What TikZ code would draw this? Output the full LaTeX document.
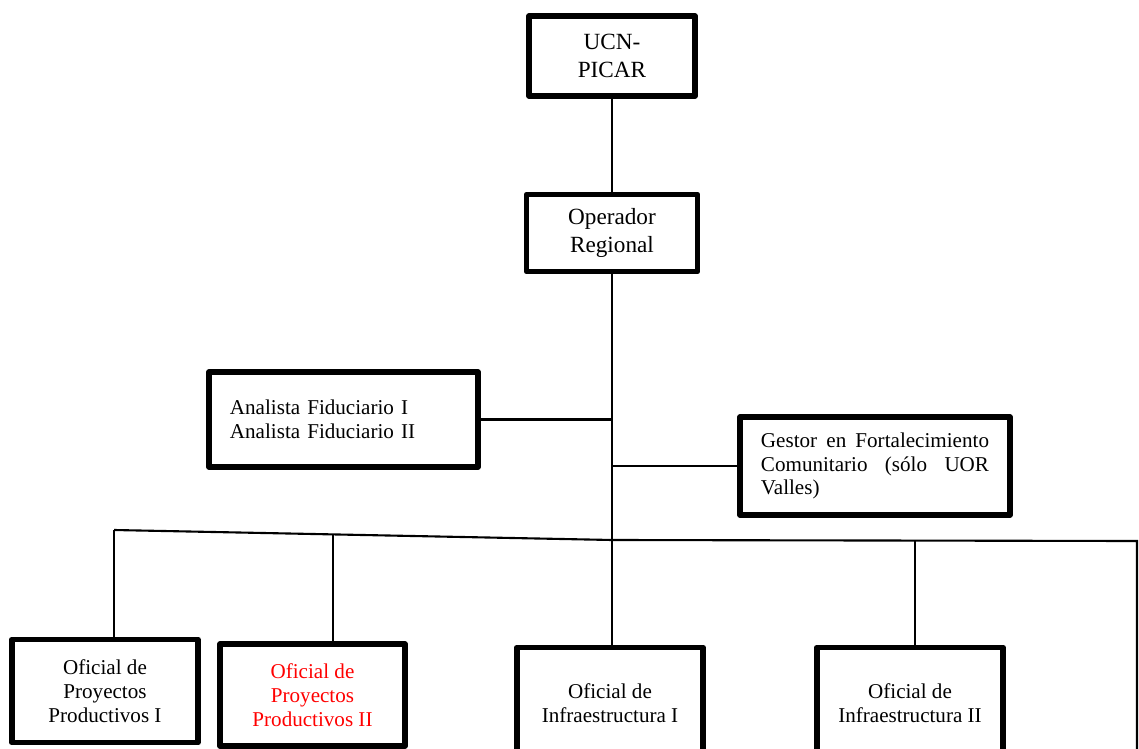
\documentclass[tikz,border=0pt]{standalone}
\usepackage{fontspec}
\setmainfont{Liberation Serif}
\usepackage{tikz}
\usetikzlibrary{calc}
\tikzset{unit/.style={draw,line width=4pt,line join=round,inner sep=0pt,
    align=center,font=\rmfamily\fontsize{15}{17}\selectfont}}
\tikzset{link/.style={line width=1.5pt}}

\begin{document}
\begin{tikzpicture}[x=0.025cm,y=-0.025cm]
        % Page frame
        \useasboundingbox (0,0) rectangle (1139,749);
        \clip (0,0) rectangle (1139,749);
        % Upper units
        \node[unit,minimum width=4.15cm,minimum height=2cm,
        font=\rmfamily\fontsize{16.5}{19.5}\selectfont] (ucn) at (612,56) {UCN-\\PICAR};
        \node[unit,minimum width=4.275cm,minimum height=1.925cm,
        font=\rmfamily\fontsize{16.5}{19.5}\selectfont] (oper) at (612,233) {Operador\\Regional};
        % Staff units
        \node[unit,minimum width=6.725cm,minimum height=2.375cm,
        text width=5.675cm,align=left] (fid) at (343.5,419.5)
        {Analista Fiduciario I\\Analista Fiduciario II};
        \node[unit,minimum width=6.75cm,minimum height=2.45cm,
        text width=5.7cm,align=justify] (gestor) at (875,466)
        {Gestor en Fortalecimiento\linebreak Comunitario (sólo UOR\linebreak Valles)};
        % Officers
        \node[unit,minimum width=4.65cm,minimum height=2.575cm] (prod1) at (105,691)
        {Oficial de\\Proyectos\\Productivos I};
        \node[unit,minimum width=4.625cm,minimum height=2.55cm,text=red] (prod2) at (312.5,695)
        {Oficial de\\Proyectos\\Productivos II};
        \node[unit,minimum width=4.65cm,minimum height=2.775cm] (infra1) at (610,703)
        {Oficial de\\Infraestructura I};
        \node[unit,minimum width=4.65cm,minimum height=2.775cm] (infra2) at (910,703)
        {Oficial de\\Infraestructura II};
        % Bus coordinates
        \coordinate (bl) at (114,530);
        \coordinate (bm) at (612,540);
        \coordinate (br) at (1137,541);
        \coordinate (b2) at ($(bl)!0.44!(bm)$);
        \coordinate (b4) at (915,541);
        % Trunk
        \draw[link] (ucn) -- (oper);
        \draw[link] (oper) -- (bm);
        \draw[link] (fid.east) -- (fid.east -| bm);
        \draw[link] (gestor.west) -- (gestor.west -| bm);
        % Bus to officers
        \draw[link] (bl) -- (bm) -- (br) -- (1137,749);
        \draw[link] (bl) -- (bl |- prod1.north);
        \draw[link] (b2) -- (b2 |- prod2.north);
        \draw[link] (bm) -- (bm |- infra1.north);
        \draw[link] (b4) -- (b4 |- infra2.north);
    \end{tikzpicture}
\end{document}
